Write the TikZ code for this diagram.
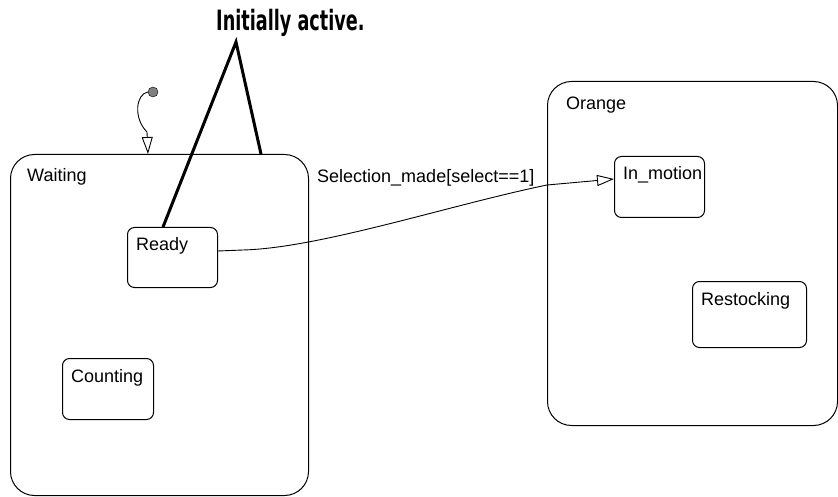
\documentclass[tikz,border=0pt]{standalone}
\usepackage{fontspec}
\setmainfont{Liberation Sans}
\newfontfamily\calloutfont[FakeStretch=0.63]{DejaVu Sans Bold}
\usepackage{tikz}
\usetikzlibrary{arrows.meta,positioning}
\tikzset{
  superstate/.style={draw, line width=1pt, rounded corners=24pt, inner sep=0pt, anchor=north west},
  substate/.style={draw, line width=1pt, rounded corners=7pt, inner sep=0pt, anchor=north west},
  statename/.style={anchor=base west, inner sep=0pt},
  trans/.style={line width=0.9pt, -{Triangle[open, length=17pt, width=11pt]}},
  pointer/.style={line width=3pt}
}

\begin{document}
\begin{tikzpicture}[x=1pt,y=-1pt,every node/.style={font=\fontsize{18}{20}\selectfont}]
  \useasboundingbox (0,0) rectangle (838,497);
  \node[superstate, minimum width=298pt, minimum height=341pt] (waiting) at (10,154) {};
  \node[superstate, minimum width=290pt, minimum height=344pt] (orange) at (547,81) {};
  \node[statename] (waiting-txt) at ([shift={(17,28)}]waiting.north west) {Waiting};
  \node[statename] (orange-txt) at ([shift={(19,29)}]orange.north west) {Orange};
  \foreach \n/\x/\y/\w/\h/\txt in {ready/127/227/90/60/Ready, counting/62/358/91/61/Counting, inmotion/614/156/90/61/In\_motion, restocking/692/281/114/66/Restocking}{
    \node[substate, minimum width=\w pt, minimum height=\h pt] (\n) at (\x,\y) {};
    \node[statename] (\n-txt) at ([shift={(9,24)}]\n.north west) {\txt};
  }
  \node[circle, draw, fill=gray, inner sep=0pt, minimum size=10pt] (dflt) at (153,92) {};
  \coordinate (dflt-end) at ([shift={(138,0)}]waiting.north west);
  \draw[trans] (dflt.west) .. controls (136,94) and (133,118) .. (147,132) -- (dflt-end);
  \coordinate (sel-start) at ([shift={(0,24)}]ready.north east);
  \coordinate (sel-end) at ([shift={(0,23)}]inmotion.north west);
  \draw[trans] (sel-start) -- (243,250) .. controls (320,248) and (450,205) .. (547,185) -- (sel-end);
  \node[statename] (sel-txt) at (317,183) {Selection\_made[select==1]};
  \node[font=\calloutfont\fontsize{28}{30}\selectfont, anchor=base west, inner sep=0pt] (callout) at (216,31) {Initially active.};
  \coordinate (apex) at (236,42);
  \draw[pointer] ([shift={(36,0)}]ready.north west) -- (apex) -- ([shift={(251,0)}]waiting.north west);
\end{tikzpicture}
\end{document}
